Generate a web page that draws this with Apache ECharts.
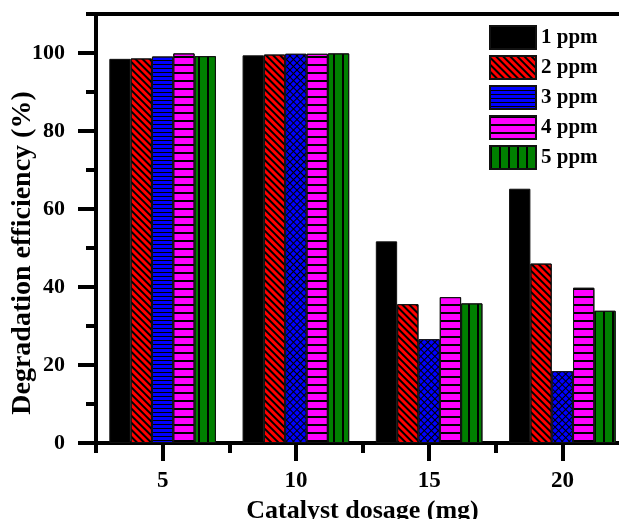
<!DOCTYPE html>
<html><head><meta charset="utf-8">
<script src="https://cdn.jsdelivr.net/npm/echarts@6/dist/echarts.min.js"></script>
<style>html,body{margin:0;padding:0;background:#fff}#c{width:619px;height:519px}</style>
</head><body><div id="c"></div>
<script>
const categories = ['5', '10', '15', '20'];
const seriesNames = ['1 ppm', '2 ppm', '3 ppm', '4 ppm', '5 ppm'];
const ppm1 = [98.5, 99.4, 51.7, 65.2];
const ppm2 = [98.6, 99.6, 35.6, 46.0];
const ppm3 = [99.1, 99.8, 26.6, 18.4];
const ppm4 = [99.9, 99.8, 37.4, 39.8];
const ppm5 = [99.2, 99.9, 35.8, 33.9];
const yTicks = [0, 20, 40, 60, 80, 100];
const yMinorTicks = [10, 30, 50, 70, 90, 110];

const FONT = '"Liberation Serif", "Times New Roman", serif';

const decals = {
  none: null,
  diag: { symbol: 'rect', symbolSize: 1, color: '#000', dashArrayX: [1, 0], dashArrayY: [1.2, 3], rotation: Math.PI / 4 },
  hlinesDense: { symbol: 'rect', symbolSize: 1, color: '#000', dashArrayX: [1, 0], dashArrayY: [1, 2.6] },
  hlinesWide: { symbol: 'rect', symbolSize: 1, color: '#000', dashArrayX: [1, 0], dashArrayY: [1.2, 5.8] },
  vlines: { symbol: 'rect', symbolSize: 1, color: '#000', dashArrayX: [1.2, 7], dashArrayY: [1, 0] },
  cross: { symbol: 'rect', symbolSize: 1, color: '#0000ff', dashArrayX: [3.2, 0.9], dashArrayY: [3.2, 0.9], rotation: Math.PI / 4 }
};

const colors = ['#000000', '#ff0000', '#0000ff', '#ff00ff', '#008000'];
const seriesDecal = [decals.none, decals.diag, decals.hlinesDense, decals.hlinesWide, decals.vlines];
const allData = [ppm1, ppm2, ppm3, ppm4, ppm5];

function buildData(i) {
  return allData[i].map((v, j) => {
    if (i === 2 && j > 0) {
      return { value: v, itemStyle: { color: '#000000', decal: decals.cross } };
    }
    return v;
  });
}

const series = seriesNames.map((name, i) => ({
  name: name,
  type: 'bar',
  xAxisIndex: 0,
  yAxisIndex: 0,
  barGap: '0%',
  barCategoryGap: '20%',
  itemStyle: {
    color: colors[i],
    borderColor: '#111',
    borderWidth: 1,
    decal: seriesDecal[i] || undefined
  },
  data: buildData(i)
}));

const chart = echarts.init(document.getElementById('c'));
chart.setOption({
  animation: false,
  backgroundColor: '#fff',
  grid: { left: 96, right: -10, top: 14, bottom: 76, outerBoundsMode: 'none', containLabel: false, show: true, borderColor: '#000', borderWidth: 4, backgroundColor: 'transparent' },
  legend: {
    orient: 'vertical',
    left: 489,
    top: 25,
    itemWidth: 46,
    itemHeight: 23,
    itemGap: 5,
    padding: 0,
    icon: 'rect',
    textStyle: { fontFamily: FONT, fontWeight: 'bold', fontSize: 21, color: '#000' },
    data: seriesNames
  },
  xAxis: [
    {
      type: 'category',
      data: categories,
      position: 'bottom',
      axisLine: { show: true, lineStyle: { color: '#000', width: 4 } },
      axisTick: { show: true, alignWithLabel: false, length: 10, lineStyle: { color: '#000', width: 4 } },
      axisLabel: { show: false },
      splitLine: { show: false }
    },
    {
      type: 'category',
      data: categories,
      position: 'bottom',
      axisLine: { show: false },
      axisTick: { show: true, alignWithLabel: true, length: 18, lineStyle: { color: '#000', width: 4 } },
      axisLabel: { show: true, margin: 27, fontFamily: FONT, fontWeight: 'bold', fontSize: 23, color: '#000' },
      splitLine: { show: false },
      name: 'Catalyst dosage (mg)',
      nameLocation: 'middle',
      nameGap: 55,
      nameMoveOverlap: false,
      nameTextStyle: { fontFamily: FONT, fontWeight: 'bold', fontSize: 26, color: '#000' }
    }
  ],
  yAxis: [
    {
      type: 'value',
      min: 0,
      max: 110,
      interval: 10,
      position: 'left',
      axisLine: { show: true, lineStyle: { color: '#000', width: 4 } },
      axisTick: { show: true, length: 18, customValues: yTicks, lineStyle: { color: '#000', width: 4 } },
      axisLabel: { show: true, margin: 31, customValues: yTicks, fontFamily: FONT, fontWeight: 'bold', fontSize: 22, color: '#000' },
      splitLine: { show: false },
      name: 'Degradation efficiency (%)',
      nameLocation: 'middle',
      nameGap: 59,
      nameMoveOverlap: false,
      nameTextStyle: { fontFamily: FONT, fontWeight: 'bold', fontSize: 28, color: '#000', padding: [0, 49, 0, 0] }
    },
    {
      type: 'value',
      min: 0,
      max: 110,
      interval: 10,
      position: 'left',
      axisLine: { show: false },
      axisTick: { show: true, length: 10, customValues: yMinorTicks, lineStyle: { color: '#000', width: 4 } },
      axisLabel: { show: false },
      splitLine: { show: false }
    }
  ],
  series: series
});
</script>
</body></html>
